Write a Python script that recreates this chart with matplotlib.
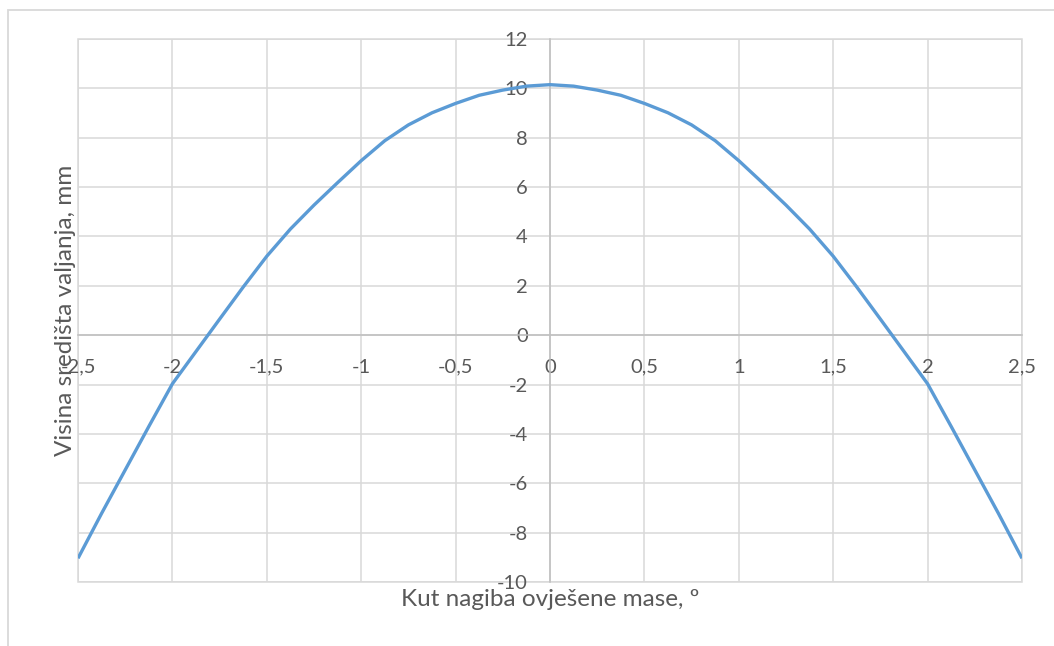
import matplotlib
matplotlib.use("Agg")
import matplotlib.pyplot as plt
from matplotlib.patches import Rectangle

# data
kut = [-2.5, -2.375, -2.25, -2.125, -2.0, -1.875, -1.75, -1.625, -1.5, -1.375,
       -1.25, -1.125, -1.0, -0.875, -0.75, -0.625, -0.5, -0.375, -0.25, -0.125,
       0.0,
       0.125, 0.25, 0.375, 0.5, 0.625, 0.75, 0.875, 1.0, 1.125, 1.25,
       1.375, 1.5, 1.625, 1.75, 1.875, 2.0, 2.125, 2.25, 2.375, 2.5]
visina = [-9.04, -7.22, -5.46, -3.70, -1.97, -0.66, 0.65, 1.95, 3.2, 4.3,
          5.27, 6.18, 7.07, 7.88, 8.52, 9.01, 9.39, 9.72, 9.93, 10.09,
          10.15,
          10.09, 9.93, 9.72, 9.39, 9.01, 8.52, 7.88, 7.07, 6.18, 5.27,
          4.3, 3.2, 1.95, 0.65, -0.66, -1.97, -3.70, -5.46, -7.22, -9.04]

x_ticks = [-2.5, -2.0, -1.5, -1.0, -0.5, 0.0, 0.5, 1.0, 1.5, 2.0, 2.5]
x_labels = ["-2,5", "-2", "-1,5", "-1", "-0,5", "0", "0,5", "1", "1,5", "2", "2,5"]
y_ticks = [-10, -8, -6, -4, -2, 0, 2, 4, 6, 8, 10, 12]

text_col = "#595959"
grid_col = "#d9d9d9"
axis_col = "#bfbfbf"

plt.rcParams["font.family"] = ["Lato", "DejaVu Sans"]
plt.rcParams["axes.unicode_minus"] = False

fig = plt.figure(figsize=(10.54, 6.46), dpi=100)
fig.patch.set_facecolor("white")

# chart area border (only top and left edge visible in the reference)
fig.patches.append(Rectangle((8 / 1054, -0.1), 1.2, 1 - 10 / 646 + 0.1,
                             transform=fig.transFigure, fill=False,
                             ec=grid_col, lw=1.3))

ax = fig.add_axes([78 / 1054, 64 / 646, 944 / 1054, 543 / 646])
ax.plot(kut, visina, color="#5b9bd5", lw=2.4, solid_capstyle="butt",
        solid_joinstyle="round", zorder=3)

ax.set_xlim(-2.5, 2.5)
ax.set_ylim(-10, 12)
ax.set_xticks(x_ticks)
ax.set_xticklabels(x_labels)
ax.set_yticks(y_ticks)
ax.grid(True, color=grid_col, lw=1.1, zorder=0)
ax.set_axisbelow(True)

ax.add_patch(Rectangle((0, 0), 1, 1, transform=ax.transAxes, fill=False,
                       ec=grid_col, lw=1.1, clip_on=False, zorder=0.5))

for s in ["top", "right"]:
    ax.spines[s].set_visible(False)
ax.spines["left"].set_position(("data", 0))
ax.spines["bottom"].set_position(("data", 0))
ax.spines["left"].set_color(axis_col)
ax.spines["bottom"].set_color(axis_col)
ax.spines["left"].set_linewidth(1.1)
ax.spines["bottom"].set_linewidth(1.1)

ax.tick_params(axis="both", length=0, labelsize=14.5, labelcolor=text_col)
ax.tick_params(axis="x", pad=17)
ax.tick_params(axis="y", pad=16)

ax.set_xlabel("Kut nagiba ovješene mase, º", fontsize=17.5, color=text_col)
ax.xaxis.set_label_coords(0.5, -0.012)
ax.xaxis.label.set_va("top")
ax.set_ylabel("Visina središta valjanja, mm", fontsize=17.5, color=text_col)
ax.yaxis.set_label_coords(-0.002, 0.5)

fig.savefig("out.png", dpi=100)
